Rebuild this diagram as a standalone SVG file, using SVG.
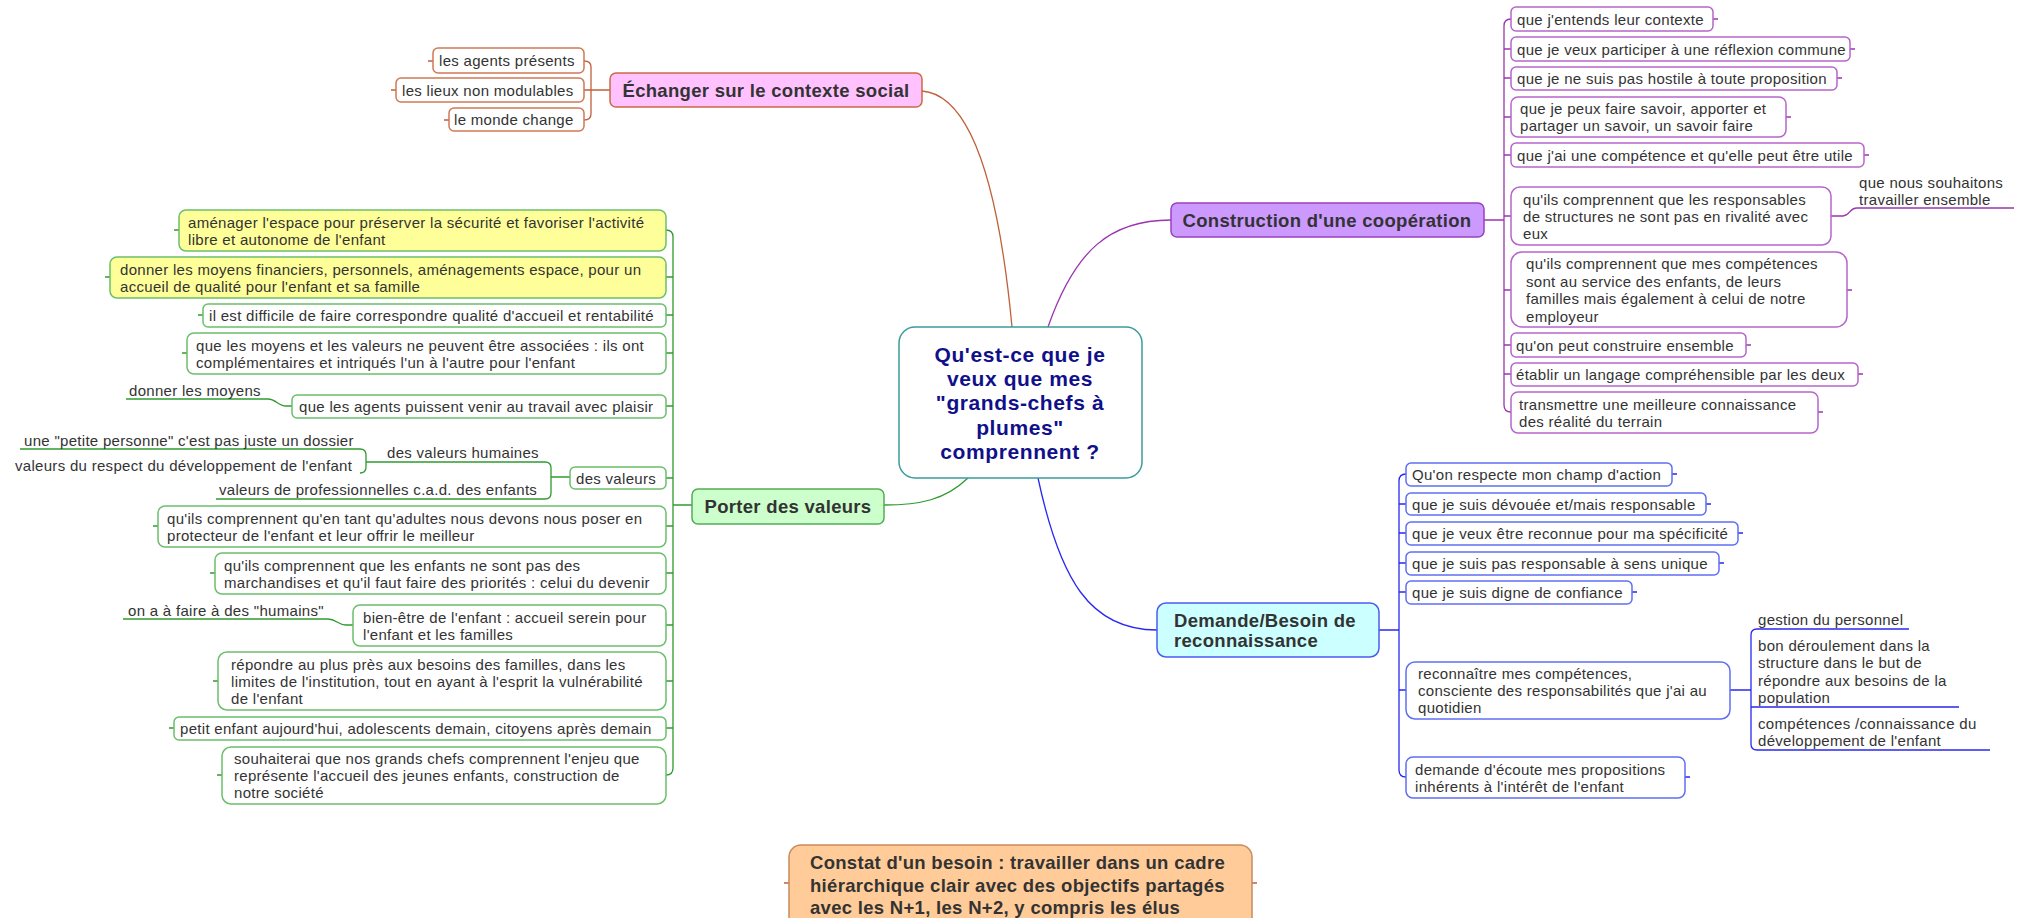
<svg xmlns="http://www.w3.org/2000/svg" width="2027" height="918" viewBox="0 0 2027 918">
<style>
text{font-family:"Liberation Sans",Arial,sans-serif;font-size:15px;letter-spacing:0.3px;fill:#333}
.h{font-weight:bold;font-size:18.5px;letter-spacing:0.3px}
.hm{font-weight:bold;font-size:18.5px;letter-spacing:0.3px;text-anchor:middle}
.c{font-weight:bold;font-size:21px;letter-spacing:0.6px;text-anchor:middle;fill:#10108a}
.ln{fill:none;stroke-width:1.3}
.br{stroke:#c0603a}.gr{stroke:#2f9a2f}.pu{stroke:#9a35b0}.bl{stroke:#2828f0}
.bb{fill:#fff;stroke:#cf7a55;stroke-width:1.5}
.bg{fill:#fff;stroke:#6cbf6c;stroke-width:1.5}
.by{fill:#ffff99;stroke:#6cbf6c;stroke-width:1.5}
.bp{fill:#fff;stroke:#b566cc;stroke-width:1.5}
.bu{fill:#fff;stroke:#5f6ff2;stroke-width:1.5}
</style>
<g id="connectors">
<path class="ln br" d="M922,91 C975,95 1000,200 1012,327"/>
<path class="ln pu" d="M1048,327 C1075,250 1110,220 1171,220"/>
<path class="ln bl" d="M1038,478 C1060,580 1090,630 1157,630"/>
<path class="ln gr" d="M968,478 C945,500 920,505 884,505"/>
<path class="ln br" d="M584,61 Q591,61 591,67 V114 Q591,120 584,120 M584,90 H610 M428,61 H433 M391,90 H396 M444,120 H449"/>
<path class="ln gr" d="M666,230 Q673,230 673,237 V768 Q673,775 666,775 M673,505 H692 M666,277 H673 M666,315 H673 M666,353 H673 M666,406 H673 M666,478 H673 M666,526 H673 M666,573 H673 M666,625 H673 M666,681 H673 M666,728 H673"/>
<path class="ln gr" d="M174,230 H179 M105,277 H110 M198,315 H203 M182,353 H187 M153,526 H158 M210,573 H215 M213,681 H218 M169,728 H174 M217,775 H222"/>
<path class="ln gr" d="M126,399 H268 C276,399 278,406 286,406 H292"/>
<path class="ln gr" d="M123,619 H328 C336,619 338,625 346,625 H353"/>
<path class="ln gr" d="M570,477 H551 M366,462 H545 Q551,462 551,468 V493 Q551,499 545,499 H216"/>
<path class="ln gr" d="M20,449 H360 Q366,449 366,455 V467 Q366,473 360,473"/>
<path class="ln pu" d="M1511,19 Q1504,19 1504,26 V405 Q1504,412 1511,412 M1484,220 H1504 M1504,49 H1511 M1504,78 H1511 M1504,117 H1511 M1504,155 H1511 M1504,216 H1511 M1504,290 H1511 M1504,345 H1511 M1504,374 H1511"/>
<path class="ln pu" d="M1713,19 H1718 M1850,49 H1855 M1837,78 H1842 M1786,117 H1791 M1864,155 H1869 M1847,290 H1852 M1746,345 H1751 M1858,374 H1863 M1818,412 H1823"/>
<path class="ln pu" d="M1831,216 H1843 C1850,216 1849,208 1857,208 H2014"/>
<path class="ln bl" d="M1406,474 Q1399,474 1399,481 V770 Q1399,777 1406,777 M1379,630 H1399 M1399,504 H1406 M1399,533 H1406 M1399,563 H1406 M1399,592 H1406 M1399,690 H1406"/>
<path class="ln bl" d="M1672,474 H1677 M1706,504 H1711 M1738,533 H1743 M1719,563 H1724 M1632,592 H1637 M1685,777 H1690"/>
<path class="ln bl" d="M1730,690 H1751 M1909,629 H1757 Q1751,629 1751,635 V744 Q1751,750 1757,750 H1990 M1751,707 H1959"/>
<path class="ln br" d="M784,883 H789 M1252,883 H1257"/>
</g>
<g id="central">
<rect x="899" y="327" width="243" height="151" rx="16" fill="#fff" stroke="#3a9c9c" stroke-width="1.5"/>
<text class="c" x="1020" y="362">Qu'est-ce que je</text>
<text class="c" x="1020" y="386">veux que mes</text>
<text class="c" x="1020" y="410">"grands-chefs à</text>
<text class="c" x="1020" y="435">plumes"</text>
<text class="c" x="1020" y="459">comprennent ?</text>
</g>
<g id="echanger">
<rect x="610" y="73" width="312" height="34" rx="6" fill="#ffc2ff" stroke="#cc6a44" stroke-width="1.5"/>
<text class="hm" x="766" y="97">Échanger sur le contexte social</text>
</g>
<g id="ech-agents"><rect class="bb" x="433" y="48" width="151" height="25" rx="5"/><text x="439" y="66">les agents présents</text></g>
<g id="ech-lieux"><rect class="bb" x="396" y="78" width="188" height="24" rx="5"/><text x="402" y="95.5">les lieux non modulables</text></g>
<g id="ech-monde"><rect class="bb" x="449" y="108" width="135" height="23" rx="5"/><text x="454" y="125">le monde change</text></g>
<g id="porter">
<rect x="692" y="489" width="192" height="35" rx="6" fill="#ccffcc" stroke="#55aa55" stroke-width="1.5"/>
<text class="hm" x="788" y="513">Porter des valeurs</text>
</g>
<g id="p-amenager"><rect class="by" x="179" y="210" width="487" height="41" rx="7"/><text x="188" y="227.5">aménager l'espace pour préserver la sécurité et favoriser l'activité</text><text x="188" y="244.5">libre et autonome de l'enfant</text></g>
<g id="p-donner"><rect class="by" x="110" y="257" width="556" height="41" rx="7"/><text x="120" y="274.5">donner les moyens financiers, personnels, aménagements espace, pour un</text><text x="120" y="291.5">accueil de qualité pour l'enfant et sa famille</text></g>
<g id="p-difficile"><rect class="bg" x="203" y="304" width="463" height="23" rx="5"/><text x="209" y="321">il est difficile de faire correspondre qualité d'accueil et rentabilité</text></g>
<g id="p-moyens"><rect class="bg" x="187" y="333" width="479" height="41" rx="7"/><text x="196" y="350.5">que les moyens et les valeurs ne peuvent être associées : ils ont</text><text x="196" y="367.5">complémentaires et intriqués l'un à l'autre pour l'enfant</text></g>
<g id="p-donner-moyens"><text x="129" y="396">donner les moyens</text></g>
<g id="p-agents"><rect class="bg" x="292" y="395" width="374" height="23" rx="5"/><text x="299" y="412">que les agents puissent venir au travail avec plaisir</text></g>
<g id="p-humaines"><text x="387" y="458">des valeurs humaines</text></g>
<g id="p-petite"><text x="24" y="446">une "petite personne" c'est pas juste un dossier</text></g>
<g id="p-respect"><text x="15" y="471">valeurs du respect du développement de l'enfant</text></g>
<g id="p-pro"><text x="219" y="495">valeurs de professionnelles c.a.d. des enfants</text></g>
<g id="p-valeurs"><rect class="bg" x="570" y="467" width="96" height="22" rx="5"/><text x="576" y="483.5">des valeurs</text></g>
<g id="p-adultes"><rect class="bg" x="158" y="506" width="508" height="41" rx="7"/><text x="167" y="523.5">qu'ils comprennent qu'en tant qu'adultes nous devons nous poser en</text><text x="167" y="540.5">protecteur de l'enfant et leur offrir le meilleur</text></g>
<g id="p-enfants"><rect class="bg" x="215" y="553" width="451" height="41" rx="7"/><text x="224" y="570.5">qu'ils comprennent que les enfants ne sont pas des</text><text x="224" y="587.5">marchandises et qu'il faut faire des priorités : celui du devenir</text></g>
<g id="p-humains"><text x="128" y="615.5">on a à faire à des "humains"</text></g>
<g id="p-bienetre"><rect class="bg" x="353" y="605" width="313" height="41" rx="7"/><text x="363" y="622.5">bien-être de l'enfant : accueil serein pour</text><text x="363" y="639.5">l'enfant et les familles</text></g>
<g id="p-repondre"><rect class="bg" x="218" y="652" width="448" height="58" rx="9"/><text x="231" y="669.5">répondre au plus près aux besoins des familles, dans les</text><text x="231" y="686.5">limites de l'institution, tout en ayant à l'esprit la vulnérabilité</text><text x="231" y="703.5">de l'enfant</text></g>
<g id="p-petit"><rect class="bg" x="174" y="717" width="492" height="23" rx="5"/><text x="180" y="734">petit enfant aujourd'hui, adolescents demain, citoyens après demain</text></g>
<g id="p-souhaiterai"><rect class="bg" x="222" y="747" width="444" height="57" rx="9"/><text x="234" y="764">souhaiterai que nos grands chefs comprennent l'enjeu que</text><text x="234" y="781">représente l'accueil des jeunes enfants, construction de</text><text x="234" y="798">notre société</text></g>
<g id="construction">
<rect x="1171" y="203" width="313" height="34" rx="6" fill="#cc99ff" stroke="#9a40c0" stroke-width="1.5"/>
<text class="hm" x="1327" y="227">Construction d'une coopération</text>
</g>
<g id="c-contexte"><rect class="bp" x="1511" y="7" width="202" height="24" rx="5"/><text x="1517" y="24.5">que j'entends leur contexte</text></g>
<g id="c-reflexion"><rect class="bp" x="1511" y="37" width="339" height="24" rx="5"/><text x="1517" y="54.5">que je veux participer à une réflexion commune</text></g>
<g id="c-hostile"><rect class="bp" x="1511" y="67" width="326" height="23" rx="5"/><text x="1517" y="84">que je ne suis pas hostile à toute proposition</text></g>
<g id="c-savoir"><rect class="bp" x="1511" y="97" width="275" height="40" rx="7"/><text x="1520" y="114">que je peux faire savoir, apporter et</text><text x="1520" y="131">partager un savoir, un savoir faire</text></g>
<g id="c-competence"><rect class="bp" x="1511" y="143" width="353" height="24" rx="5"/><text x="1517" y="160.5">que j'ai une compétence et qu'elle peut être utile</text></g>
<g id="c-rivalite"><rect class="bp" x="1511" y="187" width="320" height="58" rx="9"/><text x="1523" y="204.5">qu'ils comprennent que les responsables</text><text x="1523" y="221.5">de structures ne sont pas en rivalité avec</text><text x="1523" y="238.5">eux</text></g>
<g id="c-ensemble"><text x="1859" y="188">que nous souhaitons</text><text x="1859" y="205">travailler ensemble</text></g>
<g id="c-service"><rect class="bp" x="1511" y="252" width="336" height="75" rx="11"/><text x="1526" y="269">qu'ils comprennent que mes compétences</text><text x="1526" y="286.5">sont au service des enfants, de leurs</text><text x="1526" y="304">familles mais également à celui de notre</text><text x="1526" y="321.5">employeur</text></g>
<g id="c-construire"><rect class="bp" x="1511" y="333" width="235" height="24" rx="5"/><text x="1516" y="350.5">qu'on peut construire ensemble</text></g>
<g id="c-langage"><rect class="bp" x="1511" y="363" width="347" height="23" rx="5"/><text x="1516" y="380">établir un langage compréhensible par les deux</text></g>
<g id="c-terrain"><rect class="bp" x="1511" y="392" width="307" height="41" rx="7"/><text x="1519" y="409.5">transmettre une meilleure connaissance</text><text x="1519" y="426.5">des réalité du terrain</text></g>
<g id="demande">
<rect x="1157" y="603" width="222" height="54" rx="9" fill="#ccffff" stroke="#4a5cf0" stroke-width="1.5"/>
<text class="h" x="1174" y="627">Demande/Besoin de</text>
<text class="h" x="1174" y="647">reconnaissance</text>
</g>
<g id="d-champ"><rect class="bu" x="1406" y="463" width="266" height="23" rx="5"/><text x="1412" y="480">Qu'on respecte mon champ d'action</text></g>
<g id="d-devouee"><rect class="bu" x="1406" y="493" width="300" height="22" rx="5"/><text x="1412" y="509.5">que je suis dévouée et/mais responsable</text></g>
<g id="d-specificite"><rect class="bu" x="1406" y="522" width="332" height="23" rx="5"/><text x="1412" y="539">que je veux être reconnue pour ma spécificité</text></g>
<g id="d-sens"><rect class="bu" x="1406" y="552" width="313" height="23" rx="5"/><text x="1412" y="569">que je suis pas responsable à sens unique</text></g>
<g id="d-confiance"><rect class="bu" x="1406" y="581" width="226" height="23" rx="5"/><text x="1412" y="598">que je suis digne de confiance</text></g>
<g id="d-reconnaitre"><rect class="bu" x="1406" y="662" width="324" height="57" rx="9"/><text x="1418" y="679">reconnaître mes compétences,</text><text x="1418" y="696">consciente des responsabilités que j'ai au</text><text x="1418" y="713">quotidien</text></g>
<g id="d-gestion"><text x="1758" y="625">gestion du personnel</text></g>
<g id="d-deroulement"><text x="1758" y="651">bon déroulement dans la</text><text x="1758" y="668">structure dans le but de</text><text x="1758" y="686">répondre aux besoins de la</text><text x="1758" y="703">population</text></g>
<g id="d-connaissance"><text x="1758" y="729">compétences /connaissance du</text><text x="1758" y="746">développement de l'enfant</text></g>
<g id="d-ecoute"><rect class="bu" x="1406" y="757" width="279" height="41" rx="7"/><text x="1415" y="774.5">demande d'écoute mes propositions</text><text x="1415" y="791.5">inhérents à l'intérêt de l'enfant</text></g>
<g id="constat">
<rect x="789" y="845" width="463" height="90" rx="12" fill="#ffcc99" stroke="#c98a5e" stroke-width="1.5"/>
<text class="h" x="810" y="868.5">Constat d'un besoin : travailler dans un cadre</text>
<text class="h" x="810" y="891.5">hiérarchique clair avec des objectifs partagés</text>
<text class="h" x="810" y="913.5">avec les N+1, les N+2, y compris les élus</text>
</g>
</svg>
